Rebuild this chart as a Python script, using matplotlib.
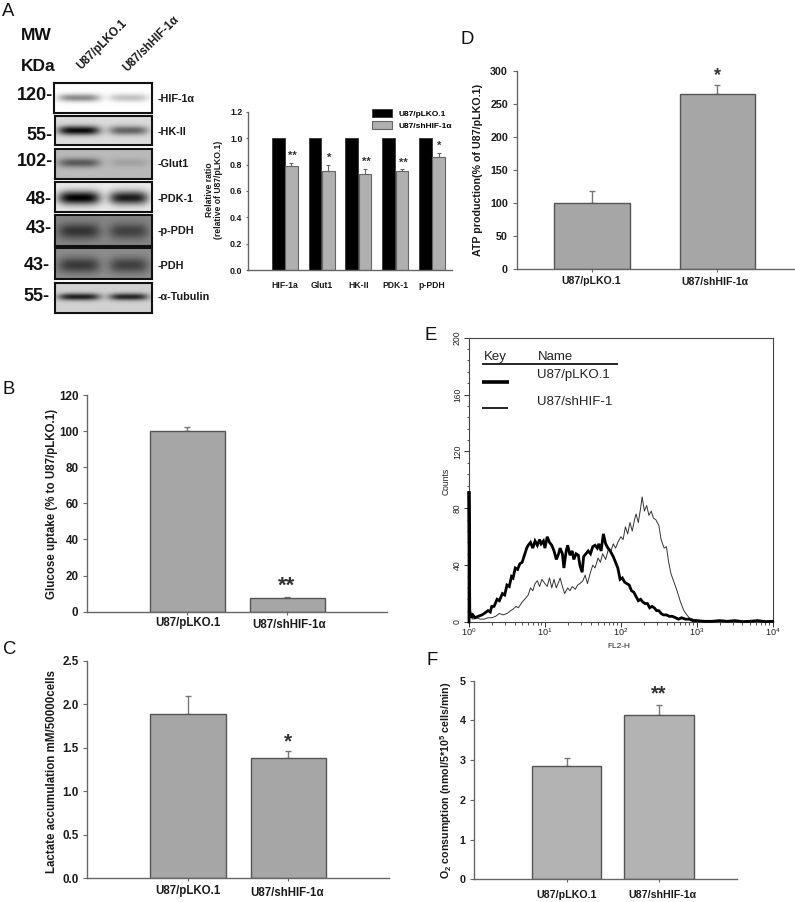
import numpy as np
import matplotlib
matplotlib.use("Agg")
import matplotlib.pyplot as plt
from matplotlib.lines import Line2D
from matplotlib.ticker import FixedLocator, NullFormatter

W, H = 795, 902
plt.rcParams['font.family'] = ['Liberation Sans', 'DejaVu Sans']
plt.rcParams['mathtext.fontset'] = 'custom'
plt.rcParams['mathtext.rm'] = 'Liberation Sans'
plt.rcParams['mathtext.bf'] = 'Liberation Sans:bold'
plt.rcParams['mathtext.default'] = 'regular'

GROUPS = ['U87/pLKO.1', 'U87/shHIF-1α']

# Panel A bars
a_cats = ['HIF-1a', 'Glut1', 'HK-II', 'PDK-1', 'p-PDH']
a_ctrl = [1.0, 1.0, 1.0, 1.0, 1.0]
a_sh = [0.79, 0.75, 0.725, 0.75, 0.86]
a_err = [0.025, 0.05, 0.045, 0.015, 0.03]
a_stars = ['**', '*', '**', '**', '*']

# Panels B, C, D, F
b_vals, b_err = [100, 7.5], [2.3, 0.4]
c_vals, c_err = [1.89, 1.38], [0.20, 0.08]
d_vals, d_err = [100, 264.5], [18, 14]
f_vals, f_err = [2.84, 4.14], [0.21, 0.25]

# Western blot: label, MW label, background, left band, right band
blot_names = ['-HIF-1α', '-HK-II', '-Glut1', '-PDK-1', '-p-PDH', '-PDH', '-α-Tubulin']
blot_mw = ['120-', '55-', '102-', '48-', '43-', '43-', '55-']
blot_bg = [1.0, 0.86, 0.73, 0.92, 0.53, 0.56, 0.82]
blot_left = [0.45, 0.95, 0.52, 1.0, 0.62, 0.60, 0.85]
blot_right = [0.24, 0.55, 0.13, 0.88, 0.52, 0.55, 0.82]

# Panel E: histogram traces (log10 FL2-H, counts)
thick_x = [0.0, 0.0, 0.005, 0.01, 0.03, 0.05, 0.08, 0.12, 0.17, 0.2, 0.25, 0.28, 0.3, 0.33, 0.37, 0.4, 0.44, 0.47, 0.5, 0.53, 0.56, 0.58, 0.61, 0.64, 0.67, 0.7, 0.73, 0.76, 0.78, 0.81, 0.84, 0.87, 0.9, 0.93, 0.95, 0.98, 1.0, 1.03, 1.06, 1.09, 1.12, 1.15, 1.18, 1.2, 1.23, 1.25, 1.28, 1.3, 1.33, 1.36, 1.38, 1.41, 1.44, 1.46, 1.49, 1.51, 1.54, 1.57, 1.6, 1.63, 1.66, 1.69, 1.71, 1.74, 1.77, 1.8, 1.83, 1.86, 1.9, 1.93, 1.96, 1.99, 2.02, 2.05, 2.08, 2.11, 2.14, 2.17, 2.2, 2.23, 2.26, 2.29, 2.32, 2.35, 2.38, 2.41, 2.44, 2.47, 2.5, 2.53, 2.56, 2.6, 2.64, 2.68, 2.72, 2.76, 2.8, 2.85, 2.9, 2.95, 3.0, 3.1, 3.2, 3.3, 3.4, 3.5, 3.6, 3.7, 3.8, 3.9, 4.0]
thick_y = [0, 92, 52, 8, 3, 5, 3, 4, 5, 6, 8, 7, 11, 11, 16, 15, 20, 19, 26, 25, 32, 31, 38, 37, 41, 42, 47, 52, 54, 56, 52, 57, 54, 58, 55, 57, 52, 60, 56, 54, 50, 44, 48, 52, 48, 38, 50, 54, 47, 50, 44, 48, 47, 40, 35, 46, 48, 50, 48, 53, 54, 52, 55, 50, 62, 55, 52, 50, 46, 42, 38, 30, 31, 28, 27, 26, 22, 21, 18, 15, 16, 14, 13, 13, 10, 11, 10, 8, 8, 6, 5, 5, 4, 4, 3, 2, 3, 2, 2, 1, 1, 0.5, 0.5, 1, 0.5, 1, 0.3, 0.5, 1, 0.3, 0.5]
thin_x = [0.02, 0.05, 0.1, 0.15, 0.2, 0.25, 0.3, 0.35, 0.4, 0.45, 0.5, 0.55, 0.58, 0.62, 0.65, 0.7, 0.75, 0.78, 0.81, 0.84, 0.87, 0.9, 0.93, 0.96, 1.0, 1.03, 1.06, 1.09, 1.12, 1.15, 1.18, 1.2, 1.23, 1.26, 1.3, 1.33, 1.36, 1.4, 1.43, 1.46, 1.5, 1.53, 1.56, 1.6, 1.63, 1.66, 1.7, 1.73, 1.76, 1.8, 1.84, 1.87, 1.9, 1.93, 1.96, 2.0, 2.03, 2.06, 2.09, 2.12, 2.15, 2.18, 2.2, 2.23, 2.26, 2.28, 2.31, 2.34, 2.37, 2.4, 2.43, 2.46, 2.5, 2.53, 2.57, 2.6, 2.63, 2.66, 2.7, 2.74, 2.78, 2.8, 2.83, 2.87, 2.9, 2.95, 3.0, 3.1, 3.3]
thin_y = [4, 2, 3, 2, 2, 3, 3, 4, 6, 5, 6, 8, 9, 11, 10, 14, 17, 19, 24, 22, 27, 29, 25, 30, 27, 25, 31, 24, 30, 24, 28, 31, 25, 20, 24, 22, 25, 23, 26, 27, 29, 33, 27, 35, 40, 38, 45, 42, 48, 44, 52, 50, 55, 52, 56, 60, 58, 67, 62, 70, 64, 72, 76, 70, 80, 88, 78, 82, 75, 78, 73, 72, 68, 58, 52, 53, 42, 34, 28, 22, 15, 12, 8, 5, 3, 2, 1, 0.5, 0]

fig = plt.figure(figsize=(W / 100, H / 100), dpi=100, facecolor='white')


def px_axes(left, top, right, bottom, **kw):
    return fig.add_axes([left / W, 1 - bottom / H, (right - left) / W, (bottom - top) / H], **kw)


def ftext(x, y, s, **kw):
    kw.setdefault('ha', 'center')
    kw.setdefault('va', 'center')
    return fig.text(x / W, 1 - y / H, s, **kw)


AXC = '#666666'


def style(ax, yticks, fmt, size, ticklen=2.7, pad=3.5):
    for s in ('top', 'right'):
        ax.spines[s].set_visible(False)
    for s in ('left', 'bottom'):
        ax.spines[s].set_color(AXC)
        ax.spines[s].set_linewidth(1.0)
    ax.set_yticks(yticks)
    ax.set_yticklabels([fmt % v for v in yticks], fontsize=size, fontweight='bold', color='#1a1a1a')
    ax.tick_params(axis='y', length=ticklen, width=0.8, color=AXC, pad=pad)
    ax.patch.set_alpha(0)


def two_bar(box, xlim, width, ylim, yticks, fmt, vals, err, fill, size, ticklen=2.7, pad=3.5):
    ax = px_axes(*box)
    ax.bar([0, 1], vals, width, color=fill, edgecolor='#555555', linewidth=1.0, zorder=2)
    ax.errorbar([0, 1], vals, yerr=[[0, 0], err], fmt='none', ecolor='#777777',
                elinewidth=1.0, capsize=2.2, capthick=1.0, zorder=1)
    ax.set_xlim(*xlim)
    ax.set_ylim(*ylim)
    ax.set_xticks([0, 1])
    ax.set_xticklabels([])
    ax.tick_params(axis='x', length=2, width=0.8, color=AXC)
    style(ax, yticks, fmt, size, ticklen, pad)
    return ax


STAR = dict(fontweight='bold', color='#333333')

# --- Panel B
two_bar((87, 395, 387, 611.7), (-1, 2), 0.75, (0, 120), [0, 20, 40, 60, 80, 100, 120], '%d',
        b_vals, b_err, '#a6a6a6', 8.4)
ftext(52, 504, 'Glucose uptake (% to U87/pLKO.1)', rotation=90, fontsize=8.3, fontweight='bold', color='#1a1a1a')
ftext(187.5, 623, GROUPS[0], fontsize=8.3, fontweight='bold', color='#1a1a1a')
ftext(289, 625, GROUPS[1], fontsize=8.3, fontweight='bold', color='#1a1a1a')
ftext(287, 586.5, '**', fontsize=16, **STAR)

# --- Panel C
two_bar((87.3, 660.7, 389, 878.3), (-1, 2), 0.75, (0, 2.5), [0, 0.5, 1.0, 1.5, 2.0, 2.5], '%.1f',
        c_vals, c_err, '#a6a6a6', 8.4)
ftext(52, 771.7, 'Lactate accumulation mM/50000cells', rotation=90, fontsize=8.3, fontweight='bold', color='#1a1a1a')
ftext(188, 891, GROUPS[0], fontsize=8.3, fontweight='bold', color='#1a1a1a')
ftext(287, 893, GROUPS[1], fontsize=8.3, fontweight='bold', color='#1a1a1a')
ftext(288, 741.5, '*', fontsize=15, **STAR)

# --- Panel D
two_bar((516.7, 70.7, 795, 269.3), (-0.6, 1.62), 0.6, (0, 300), [0, 50, 100, 150, 200, 250, 300], '%d',
        d_vals, d_err, '#a6a6a6', 7.7)
ftext(478, 169.7, 'ATP production(% of U87/pLKO.1)', rotation=90, fontsize=7.7, fontweight='bold', color='#1a1a1a')
ftext(590.7, 280.7, GROUPS[0], fontsize=7.6, fontweight='bold', color='#1a1a1a')
ftext(715, 281.7, GROUPS[1], fontsize=7.6, fontweight='bold', color='#1a1a1a')
ftext(717, 76, '*', fontsize=13, **STAR)

# --- Panel F
two_bar((474.3, 680.7, 737.3, 879.3), (-1, 1.85), 0.755, (0, 5), [0, 1, 2, 3, 4, 5], '%d',
        f_vals, f_err, '#b3b3b3', 7.7)
ftext(446, 780, r'$\mathbf{O_2}$ consumption (nmol/5*10$\mathbf{^5}$ cells/min)', rotation=90,
      fontsize=7.7, fontweight='bold', color='#1a1a1a')
ftext(566.7, 895, GROUPS[0], fontsize=7.7, fontweight='bold', color='#1a1a1a')
ftext(662.7, 895, GROUPS[1], fontsize=7.7, fontweight='bold', color='#1a1a1a')
ftext(658.7, 694, '**', fontsize=14.5, **STAR)

# --- Panel A bars
axa = px_axes(248.3, 111.7, 451.7, 270.3)
xa = np.arange(len(a_cats))
axa.bar(xa - 0.18, a_ctrl, 0.345, color='black', edgecolor='#333333', linewidth=0.6,
        label=GROUPS[0], zorder=2)
axa.bar(xa + 0.18, a_sh, 0.345, color='#b0b0b0', edgecolor='#666666', linewidth=0.8,
        label=GROUPS[1], zorder=2)
axa.errorbar(xa + 0.18, a_sh, yerr=[np.zeros(len(a_sh)), a_err], fmt='none', ecolor='#666666',
             elinewidth=0.8, capsize=1.5, capthick=0.8, zorder=1)
axa.set_xlim(-0.99, 4.53)
axa.set_ylim(0, 1.2)
axa.set_xticks(xa)
axa.set_xticklabels(a_cats, fontsize=6.2, fontweight='bold', color='#1a1a1a')
axa.tick_params(axis='x', length=0, pad=7.5)
style(axa, [0, 0.2, 0.4, 0.6, 0.8, 1.0, 1.2], '%.1f', 6.4, 1.6, 2.6)
ftext(214, 190, 'Relative ratio\n(relative of U87/pLKO.1)', rotation=90, fontsize=6.2, fontweight='bold',
      color='#1a1a1a', linespacing=1.05)
for xp, yp, s in zip([292.3, 329, 366, 403, 439], [156, 158, 162, 162.7, 146], a_stars):
    ftext(xp, yp, s, fontsize=8, fontweight='bold', color='#333333')
axa.legend(loc='upper left', bbox_to_anchor=((372.5 - 248.3) / 203.4, 1.02), frameon=False,
           prop={'weight': 'bold', 'size': 6}, handlelength=2.4, handleheight=1.25, labelspacing=0.35,
           borderpad=0, borderaxespad=0, handletextpad=0.75)

# --- Western blots
blot_boxes = [(53.7, 82.7, 151.7, 112.7), (55, 115.7, 152, 145.3), (54.7, 148.7, 152, 179),
              (54.7, 181.7, 152, 212.3), (54.7, 215, 152, 245.7), (54.7, 248.3, 152, 279),
              (54.7, 283, 152, 313.3)]
blot_sigma = [4.0, 4.6, 4.6, 6.8, 8.0, 8.0, 3.6]
blot_center = [97, 130.7, 163, 198, 230.7, 265, 297.3]
blot_lab_y = [99, 131.7, 164, 199, 231, 265.7, 297.3]
mw_right = [52.7, 52.7, 52.7, 51.7, 51.7, 50, 50]
mw_y = [95.7, 135, 162, 199, 228.3, 266, 296.7]
lane_cx = [78.5, 128]
lane_hw = [21, 19.5]
for i, box in enumerate(blot_boxes):
    l, t, r, b = box
    ax = px_axes(l, t, r, b)
    yy, xx = np.mgrid[t:b:1.0, l:r:1.0]
    dens = np.zeros_like(xx)
    for cx, hw, s in zip(lane_cx, lane_hw, (blot_left[i], blot_right[i])):
        dens += s * np.exp(-((xx - cx) / hw) ** 4) * np.exp(-((yy - blot_center[i]) / blot_sigma[i]) ** 2)
    img = blot_bg[i] * (1 - dens)
    ax.imshow(np.clip(img, 0, 1), cmap='gray', vmin=0, vmax=1, aspect='auto', interpolation='bilinear')
    ax.set_xticks([])
    ax.set_yticks([])
    for s in ax.spines.values():
        s.set_linewidth(1.5)
        s.set_color('#111111')
    ftext(158, blot_lab_y[i], blot_names[i], ha='left', fontsize=7.8, fontweight='bold', color='#1a1a1a')
    ftext(mw_right[i], mw_y[i], blot_mw[i], ha='right', fontsize=13, fontweight='bold', color='#111111')
ftext(20.7, 35, 'MW', ha='left', fontsize=12.5, fontweight='bold', color='#111111')
ftext(20.7, 66.7, 'KDa', ha='left', fontsize=12.5, fontweight='bold', color='#111111')
ftext(79, 68, GROUPS[0], ha='left', rotation=45, rotation_mode='anchor', fontsize=8.3, fontweight='bold', color='#1a1a1a')
ftext(125, 70, GROUPS[1], ha='left', rotation=45, rotation_mode='anchor', fontsize=8.3, fontweight='bold', color='#1a1a1a')

# --- Panel E
axe = px_axes(469, 337.7, 772.7, 622.3)
axe.plot(10 ** np.array(thin_x), thin_y, color='#333333', lw=0.7, zorder=2, clip_on=False)
axe.plot(10 ** np.array(thick_x), thick_y, color='black', lw=2.0, zorder=3, solid_joinstyle='miter', clip_on=False)
axe.set_xscale('log')
axe.set_xlim(1, 1e4)
axe.set_ylim(-0.2, 200)
axe.set_xticks([1, 10, 100, 1000, 10000])
axe.set_xticklabels([r'$10^{0}$', r'$10^{1}$', r'$10^{2}$', r'$10^{3}$', r'$10^{4}$'], fontsize=6.6, color='#222222')
axe.xaxis.set_minor_locator(FixedLocator([m * 10 ** e for e in range(4) for m in range(2, 10)]))
axe.xaxis.set_minor_formatter(NullFormatter())
axe.set_yticks([0, 40, 80, 120, 160, 200])
axe.set_yticklabels(['0', '40', '80', '120', '160', '200'], rotation=90, va='center', fontsize=6.2, color='#222222')
axe.yaxis.set_minor_locator(FixedLocator(list(range(0, 201, 8))))
axe.tick_params(axis='both', which='major', length=3.5, width=0.7, color='#333333', pad=1.5)
axe.tick_params(axis='x', which='major', pad=-0.5)
axe.tick_params(axis='both', which='minor', length=1.8, width=0.6, color='#333333')
for s in axe.spines.values():
    s.set_color('#444444')
    s.set_linewidth(0.8)
ftext(446, 481.7, 'Counts', rotation=90, fontsize=6.2, color='#222222')
ftext(619, 646, 'FL2-H', fontsize=6.0, color='#222222')
ftext(484, 356.7, 'Key', ha='left', fontsize=9.5, color='#222222')
ftext(538, 356.7, 'Name', ha='left', fontsize=9.5, color='#222222')
ftext(536.7, 375, 'U87/pLKO.1', ha='left', fontsize=9.5, color='#222222')
ftext(536.7, 401.7, 'U87/shHIF-1', ha='left', fontsize=9.5, color='#222222')
for xs, y, lw in [((481.7, 617.7), 363.7, 1.2), ((481.7, 509), 382, 2.6), ((481.7, 507.7), 408.3, 1.2)]:
    fig.add_artist(Line2D([xs[0] / W, xs[1] / W], [1 - y / H, 1 - y / H], color='black', lw=lw,
                          solid_capstyle='butt'))

# --- Panel letters
for x, y, s in [(2, 11, 'A'), (2.7, 389, 'B'), (2.7, 650, 'C'), (460.7, 40, 'D'), (424.5, 335, 'E'), (426, 660.7, 'F')]:
    ftext(x, y, s, ha='left', fontsize=13.3, color='#111111')

fig.savefig('out.png', dpi=100)
